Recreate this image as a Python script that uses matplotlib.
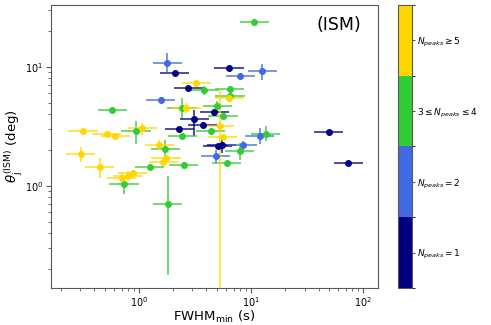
import numpy as np
import matplotlib
matplotlib.use("Agg")
import matplotlib.pyplot as plt
from matplotlib.colors import ListedColormap, BoundaryNorm
from matplotlib.colorbar import ColorbarBase

# colours per N_peaks class
COLORS = ["navy", "royalblue", "limegreen", "gold"]
CLASS_LABELS = [r"$N_{peaks}=1$", r"$N_{peaks}=2$",
                r"$3\leq N_{peaks}\leq4$", r"$N_{peaks}\geq5$"]

# horizontal error half-width (dex), same for every point
XERR_DEX = 0.13

# N_peaks = 1
fwhm_1 = [2.08, 6.36, 2.76, 4.70, 3.12, 3.69, 2.29, 5.04, 5.47, 49.4, 73.9]
theta_1 = [8.79, 9.68, 6.62, 4.13, 3.66, 3.26, 2.99, 2.14, 2.20, 2.81, 1.55]
tlo_1 = [0.02, 0.02, 0.02, 0.02, 0.149, 0.02, 0.02, 0.02, 0.067, 0.02, 0.02]
thi_1 = [0.02, 0.02, 0.02, 0.02, 0.076, 0.02, 0.02, 0.02, 0.06, 0.02, 0.02]

# N_peaks = 2
fwhm_2 = [1.79, 7.98, 12.6, 1.56, 8.43, 11.9, 4.84]
theta_2 = [10.7, 8.29, 9.14, 5.30, 2.18, 2.64, 1.79]
tlo_2 = [0.084, 0.02, 0.076, 0.025, 0.04, 0.067, 0.063]
thi_2 = [0.084, 0.02, 0.065, 0.025, 0.04, 0.063, 0.048]

# 3 <= N_peaks <= 4
fwhm_3 = [10.7, 0.578, 3.83, 6.43, 6.49, 2.42, 5.00, 5.62, 4.37, 2.43,
          0.94, 0.735, 1.25, 1.72, 2.50, 1.80, 7.89, 13.5, 6.07]
theta_3 = [23.7, 4.29, 6.32, 6.53, 5.62, 4.48, 4.70, 3.82, 2.86, 2.60,
           2.87, 1.04, 1.45, 2.02, 1.51, 0.70, 1.96, 2.74, 1.55]
tlo_3 = [0.025, 0.02, 0.035, 0.02, 0.042, 0.084, 0.042, 0.02, 0.02, 0.02,
         0.108, 0.086, 0.02, 0.087, 0.02, 0.594, 0.074, 0.065, 0.02]
thi_3 = [0.025, 0.02, 0.035, 0.02, 0.042, 0.084, 0.042, 0.02, 0.02, 0.02,
         0.082, 0.055, 0.02, 0.082, 0.02, 0.238, 0.069, 0.061, 0.02]

# N_peaks >= 5
fwhm_5 = [3.24, 6.39, 2.63, 5.23, 5.59, 1.07, 0.316, 0.515, 0.614,
          0.301, 0.446, 0.701, 0.789, 0.878, 1.51, 1.74, 1.65]
theta_5 = [7.24, 5.44, 4.52, 3.16, 2.55, 3.03, 2.86, 2.72, 2.60,
           1.85, 1.44, 1.17, 1.22, 1.28, 2.20, 1.71, 1.58]
tlo_5 = [0.02, 0.02, 0.042, 1.5, 0.02, 0.059, 0.02, 0.02, 0.02,
         0.071, 0.095, 0.035, 0.042, 0.02, 0.038, 0.02, 0.02]
thi_5 = [0.02, 0.02, 0.042, 0.307, 0.02, 0.048, 0.02, 0.02, 0.02,
         0.058, 0.073, 0.042, 0.042, 0.02, 0.038, 0.02, 0.02]

GROUPS = [
    (fwhm_1, theta_1, tlo_1, thi_1),
    (fwhm_2, theta_2, tlo_2, thi_2),
    (fwhm_3, theta_3, tlo_3, thi_3),
    (fwhm_5, theta_5, tlo_5, thi_5),
]


def dex_to_err(vals, lo, hi):
    v = np.asarray(vals)
    return np.vstack([v - v * 10 ** (-np.asarray(lo)), v * 10 ** np.asarray(hi) - v])


fig = plt.figure(figsize=(4.91, 3.25), dpi=100)
ax = fig.add_axes([0.104, 0.114, 0.666, 0.871])
cax = fig.add_axes([0.811, 0.114, 0.0285, 0.871])

for (x, y, lo, hi), col in zip(GROUPS, COLORS):
    xerr = dex_to_err(x, [XERR_DEX] * len(x), [XERR_DEX] * len(x))
    yerr = dex_to_err(y, lo, hi)
    ax.errorbar(x, y, xerr=xerr, yerr=yerr, fmt="none", ecolor=col,
                elinewidth=1.4, alpha=0.7, zorder=2)
    ax.plot(x, y, "o", color=col, markersize=4, zorder=3)

ax.set_xscale("log")
ax.set_yscale("log")
ax.set_xlim(0.164, 136)
ax.set_ylim(0.139, 33)
ax.tick_params(which="both", labelsize=7, color="0.35", pad=2)
ax.set_xlabel(r"FWHM$_{\rm min}$ (s)", fontsize=9.5, labelpad=0)
ax.set_ylabel(r"$\theta_{\rm j}^{\rm (ISM)}$ (deg)", fontsize=9.5, labelpad=0)
for sp in ax.spines.values():
    sp.set_color("0.35")
ax.text(0.95, 0.93, "(ISM)", transform=ax.transAxes, ha="right", va="center",
        fontsize=12.5)

cmap = ListedColormap(COLORS)
norm = BoundaryNorm([0.5, 1.5, 2.5, 3.5, 4.5], cmap.N)
cb = ColorbarBase(cax, cmap=cmap, norm=norm, ticks=[1, 2, 3, 4])
cb.set_ticklabels(CLASS_LABELS)
cb.ax.tick_params(labelsize=6.5, length=2, pad=1.5, color="0.35")
cb.outline.set_edgecolor("0.35")

fig.savefig("out.png", dpi=100)
